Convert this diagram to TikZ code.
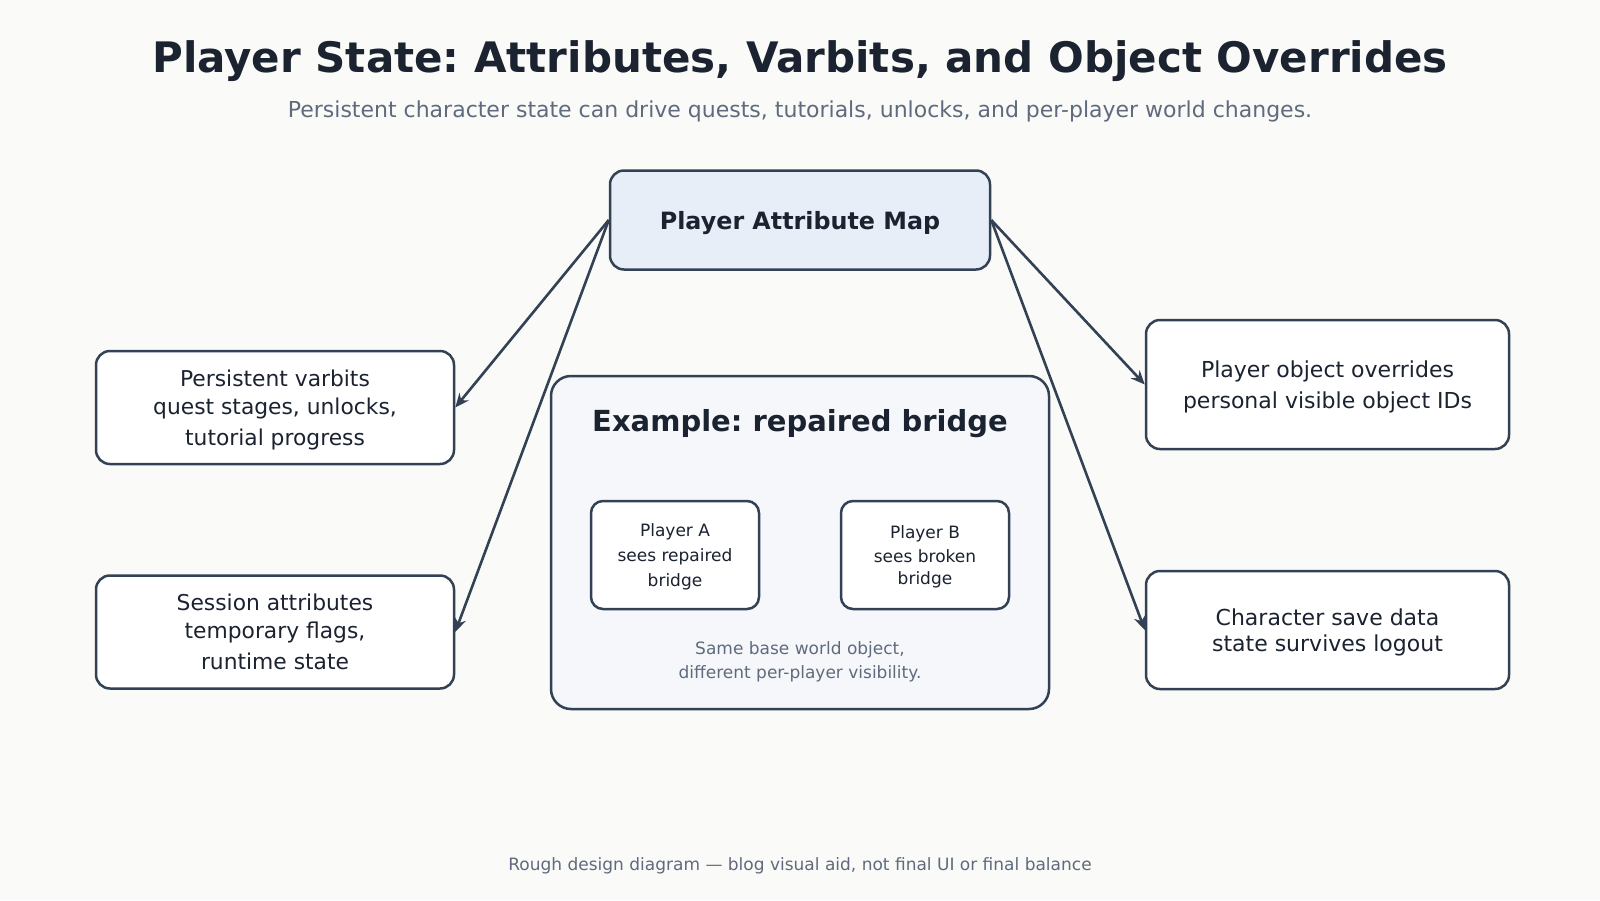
\documentclass[tikz,border=0pt]{standalone}
\usepackage{fontspec}
\setmainfont{DejaVu Sans}
\usepackage{tikz}
\usetikzlibrary{arrows.meta,positioning}
\frenchspacing

\definecolor{ink}{HTML}{1B2230}
\definecolor{edge}{HTML}{334155}
\definecolor{muted}{HTML}{5F6B7D}
\definecolor{paper}{HTML}{FAFAF8}
\definecolor{hubfill}{HTML}{E8EEF8}
\definecolor{panelfill}{HTML}{F5F7FA}

\tikzset{
  card/.style={draw=edge, line width=1.25pt, rounded corners=7pt, fill=white,
    text=ink, align=center, inner sep=0pt, text depth=0pt, font=\fontsize{10.9}{14}\selectfont},
  small card/.style={card, rounded corners=6pt, font=\fontsize{8.5}{12.5}\selectfont},
  link/.style={draw=edge, line width=1.3pt, -{Stealth[length=7pt,width=6pt]}}
}

\begin{document}
\begin{tikzpicture}[x=0.5pt,y=-0.5pt]
\fill[paper] (0,0) rectangle (1600,900);
\useasboundingbox (0,0) rectangle (1600,900);

% title
\node[text=ink, font=\fontsize{21}{24}\selectfont\bfseries] (title) at (800,61) {Player State: Attributes, Varbits, and Object Overrides};
\node[text=muted, font=\fontsize{11}{13}\selectfont] (subtitle) at (800,111) {Persistent character state can drive quests, tutorials, unlocks, and per-player world changes.};

% hub
\node[card, fill=hubfill, minimum width=190pt, minimum height=49.5pt, font=\fontsize{11.9}{14}\selectfont\bfseries] (hub) at (800,220) {Player Attribute Map};

% side boxes
\node[card, minimum width=179pt, minimum height=56.5pt] (varbits) at (275,407.5) {Persistent varbits\\quest stages, unlocks,\\[1.5pt]tutorial progress};
\node[card, minimum width=179pt, minimum height=56.5pt] (session) at (275,632) {Session attributes\\temporary flags,\\[1.5pt]runtime state};
\node[card, minimum width=181.5pt, minimum height=64.5pt, font=\fontsize{11}{15.5}\selectfont] (overrides) at (1327.5,384.5) {Player object overrides\\personal visible object IDs};
\node[card, minimum width=181.5pt, minimum height=59pt, font=\fontsize{11}{13}\selectfont] (savedata) at (1327.5,630) {Character save data\\state survives logout};

% example panel
\node[card, fill=panelfill, rounded corners=10pt, minimum width=249pt, minimum height=166.5pt] (panel) at (800,542.5) {};
\node[text=ink, font=\fontsize{14.5}{17}\selectfont\bfseries] (paneltitle) at (800,424) {Example: repaired bridge};
\node[small card, minimum width=84pt, minimum height=54pt] (playerA) at (675,555) {Player A\\sees repaired\\bridge};
\node[small card, minimum width=84pt, minimum height=54pt, font=\fontsize{8.5}{11}\selectfont] (playerB) at (925,555) {Player B\\[1pt]sees broken\\bridge};
\node[text=muted, align=center, font=\fontsize{8.5}{12}\selectfont] (caption) at (800,661.5) {Same base world object,\\different per-player visibility.};

% links
\draw[link] (hub.west) -- (varbits.east);
\draw[link] (hub.west) -- (session.east);
\draw[link] (hub.east) -- (overrides.west);
\draw[link] (hub.east) -- (savedata.west);

% footer
\node[text=muted, font=\fontsize{8.5}{10}\selectfont] (footer) at (800,866) {Rough design diagram — blog visual aid, not final UI or final balance};
\end{tikzpicture}
\end{document}
